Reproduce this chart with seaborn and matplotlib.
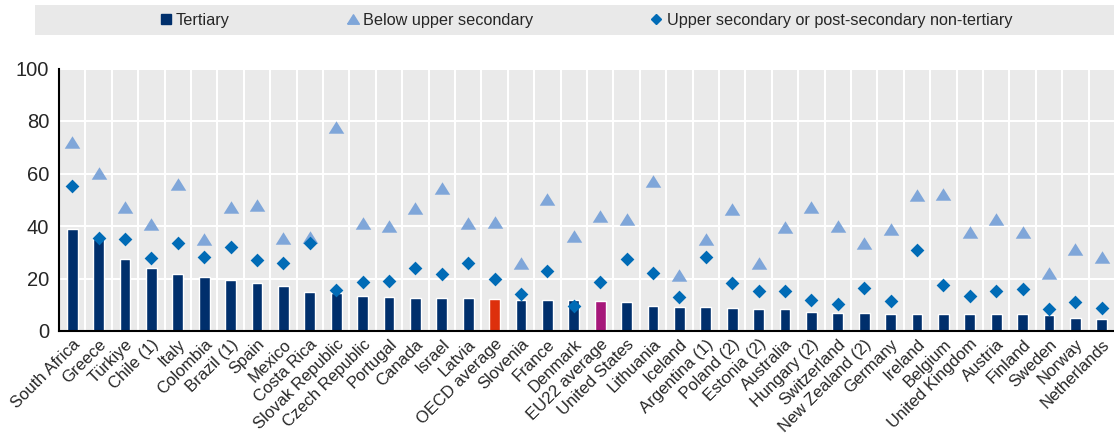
import pandas as pd
import numpy as np
import matplotlib
matplotlib.use('Agg')
import matplotlib.pyplot as plt
import seaborn as sns
from matplotlib.lines import Line2D
from matplotlib.patches import Rectangle

countries = [
    'South Africa', 'Greece', 'Türkiye', 'Chile (1)', 'Italy', 'Colombia', 'Brazil (1)', 'Spain',
    'Mexico', 'Costa Rica', 'Slovak Republic', 'Czech Republic', 'Portugal', 'Canada', 'Israel',
    'Latvia', 'OECD average', 'Slovenia', 'France', 'Denmark', 'EU22 average', 'United States',
    'Lithuania', 'Iceland', 'Argentina (1)', 'Poland (2)', 'Estonia (2)', 'Australia', 'Hungary (2)',
    'Switzerland', 'New Zealand (2)', 'Germany', 'Ireland', 'Belgium', 'United Kingdom', 'Austria',
    'Finland', 'Sweden', 'Norway', 'Netherlands'
]
tertiary = [39.0, 35.0, 27.3, 23.9, 21.8, 20.7, 19.3, 18.2, 17.0, 14.9, 14.5, 13.5, 13.1, 12.7,
            12.4, 12.4, 12.2, 11.8, 11.8, 11.8, 11.4, 10.9, 9.5, 9.1, 9.1, 8.8, 8.4, 8.4, 7.2,
            6.9, 6.9, 6.5, 6.5, 6.5, 6.5, 6.5, 6.5, 6.1, 5.1, 4.7]
below_upper = [72.1, 60.3, 47.1, 40.8, 56.0, 35.0, 47.1, 47.9, 35.3, 35.9, 77.8, 41.0, 40.0, 46.7,
               54.4, 41.0, 41.6, 25.8, 50.3, 36.3, 43.9, 42.5, 57.1, 21.3, 34.9, 46.3, 25.8, 39.7,
               47.1, 40.0, 33.4, 38.7, 51.8, 52.2, 37.8, 42.5, 37.8, 22.2, 31.1, 28.3]
upper_sec = [55.2, 35.5, 35.0, 27.7, 33.7, 28.3, 32.1, 27.0, 25.8, 33.7, 15.6, 18.8, 19.0, 23.9,
             21.7, 25.8, 19.8, 14.0, 22.9, 9.5, 18.8, 27.4, 22.0, 13.1, 28.3, 18.2, 15.4, 15.3,
             11.8, 10.3, 16.5, 11.4, 30.9, 17.5, 13.5, 15.3, 15.9, 8.3, 10.9, 8.9]

navy = '#002F6C'
tri_col = '#7FA6D9'
dia_col = '#006BB6'
bar_cols = {c: navy for c in countries}
bar_cols['OECD average'] = '#DD300C'
bar_cols['EU22 average'] = '#A6177A'

df = pd.DataFrame({'country': countries, 'tertiary': tertiary,
                   'below': below_upper, 'upper': upper_sec})

sns.set_style('white')
plt.rcParams['font.family'] = ['Liberation Sans', 'DejaVu Sans']

fig = plt.figure(figsize=(11.14, 4.34), dpi=100)
ax = fig.add_axes([59 / 1114, 103 / 434, 1056 / 1114, 262.5 / 434])
ax.set_facecolor('#EAEAEA')

sns.barplot(data=df, x='country', y='tertiary', hue='country', palette=bar_cols,
            legend=False, width=0.41, saturation=1, ax=ax, zorder=2)

# wider, flatter triangle like the original
tri = [(-1, -0.8), (1, -0.8), (0, 0.8), (-1, -0.8)]
sns.stripplot(data=df, x='country', y='below', jitter=False, marker=tri, color=tri_col,
              size=11.2, linewidth=0, ax=ax, zorder=3)
sns.stripplot(data=df, x='country', y='upper', jitter=False, marker='D', color=dia_col,
              size=7, linewidth=0, ax=ax, zorder=4)

ax.set_xlim(-0.5, len(countries) - 0.5)
ax.set_ylim(0, 100)
ax.set_yticks([0, 20, 40, 60, 80, 100])
ax.set_xlabel('')
ax.set_ylabel('')

ax.set_xticks(np.arange(len(countries)))
ax.set_xticklabels(countries, rotation=45, ha='right', rotation_mode='anchor', fontsize=12)
ax.set_xticks(np.arange(len(countries)) + 0.5, minor=True)
ax.tick_params(axis='x', which='major', length=0, pad=4)
ax.tick_params(axis='x', which='minor', direction='in', length=5, width=1.2, color='black')
ax.tick_params(axis='y', direction='in', length=3, width=1.2, color='black', labelsize=14.5, pad=7)

ax.set_axisbelow(True)
ax.grid(axis='y', which='major', color='white', linewidth=1.5)
ax.grid(axis='x', which='minor', color='white', linewidth=1.5)
ax.grid(axis='x', which='major', visible=False)

for s in ['top', 'right']:
    ax.spines[s].set_visible(False)
for s in ['left', 'bottom']:
    ax.spines[s].set_color('black')
    ax.spines[s].set_linewidth(1.5)

fig.patches.append(Rectangle((35 / 1114, 1 - 35 / 434), 1 - 35 / 1114, 30 / 434,
                             transform=fig.transFigure, facecolor='#E9E9E9',
                             edgecolor='none', zorder=0))
handles = [
    Line2D([], [], linestyle='none', marker='s', color=navy, markersize=7.5),
    Line2D([], [], linestyle='none', marker=tri, color=tri_col, markersize=8.5),
    Line2D([], [], linestyle='none', marker='D', color=dia_col, markersize=4.8),
]
labels = ['Tertiary', 'Below upper secondary', 'Upper secondary or post-secondary non-tertiary']
fig.legend(handles, labels, loc='center', bbox_to_anchor=(586 / 1114, 1 - 20 / 434),
           ncol=3, frameon=False, fontsize=11.7, handlelength=0.7, handletextpad=0.3,
           columnspacing=7.2, borderpad=0, borderaxespad=0)

fig.savefig('out.png', dpi=100)
